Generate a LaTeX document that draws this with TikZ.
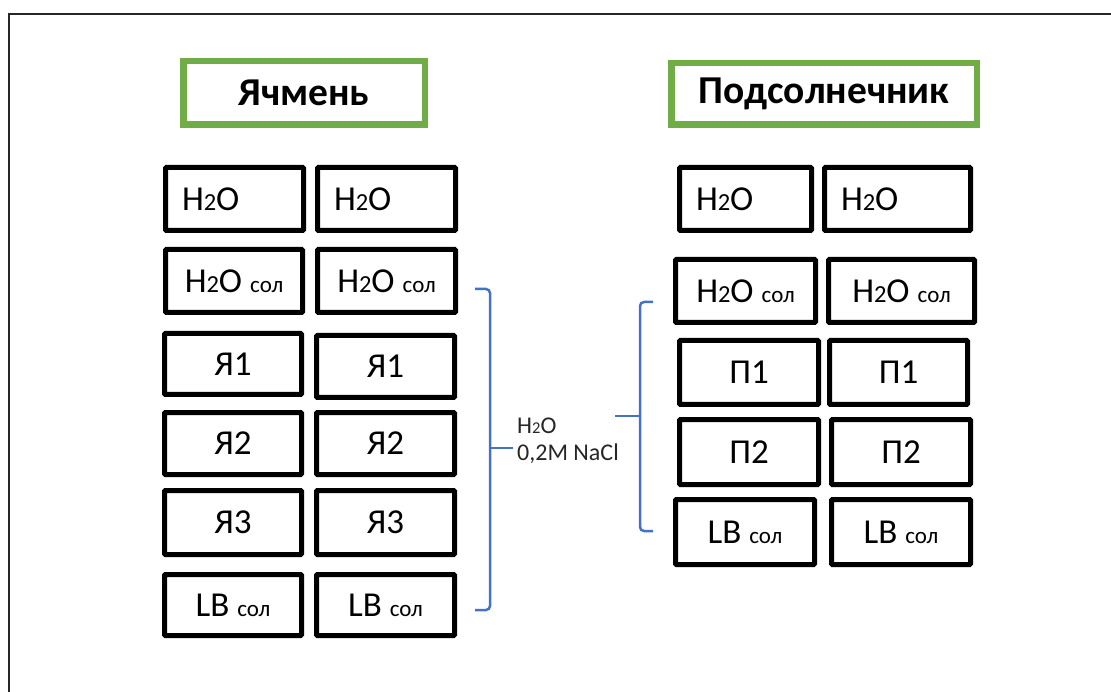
\documentclass[tikz,border=0pt]{standalone}
\usepackage{fontspec}
\setmainfont{Carlito}
\definecolor{titlegreen}{HTML}{70AD47}
\definecolor{braceblue}{HTML}{4472C4}
\newcommand\subtwo{{\fontsize{24.5}{24.5}\selectfont 2}}
\newcommand\solsmall{{\fontsize{23}{23}\selectfont сол}}
\newcommand\mainsize{\fontsize{35}{42}\selectfont}
% centred cell: name, x1, y1, x2, y2 (outer edges), text
\newcommand\cellc[6]{%
  \pgfmathsetmacro\cw{#4-#2-5}\pgfmathsetmacro\ch{#5-#3-5}%
  \node[cell,minimum width=\cw pt,minimum height=\ch pt] (#1) at ({(#2+#4)/2},{(#3+#5)/2}) {#6};}
% left-aligned cell
\newcommand\celll[6]{%
  \pgfmathsetmacro\tw{#4-#2-5-33}\pgfmathsetmacro\ch{#5-#3-5}%
  \node[cell,text width=\tw pt,align=left,inner xsep=16.5pt,minimum height=\ch pt] (#1) at ({(#2+#4)/2},{(#3+#5)/2}) {#6};}
% title box
\newcommand\titlebox[6]{%
  \pgfmathsetmacro\cw{#4-#2-6.5}\pgfmathsetmacro\ch{#5-#3-6.5}%
  \node[titlecell,minimum width=\cw pt,minimum height=\ch pt] (#1) at ({(#2+#4)/2},{(#3+#5)/2}) {#6};}
\begin{document}
\begin{tikzpicture}[x=1pt,y=-1pt,
  cell/.style={draw=black,line width=5pt,rounded corners=1pt,inner sep=0pt,
    font=\mainsize,text=black},
  titlecell/.style={draw=titlegreen,line width=6.5pt,inner sep=0pt,
    font=\fontsize{39.5}{46}\selectfont\bfseries,text=black},
  bracket/.style={draw=braceblue,line width=2.5pt,rounded corners=4pt},
  label/.style={font=\fontsize{24}{27}\selectfont,align=left,inner sep=0pt,text=black!85}]
\useasboundingbox (0,0) rectangle (1111,692);
\fill[white] (0,0) rectangle (1111,692);
% frame (only the top and left edges fall inside)
\draw[line width=2pt,black!85] (9,692) -- (9,14) -- (1111,14);

% titles
\titlebox{tY}{180}{58}{428}{128}{Ячмень}
\titlebox{tP}{668}{60}{980}{128}{Подсолнечник}

% barley samples
\celll{ya}{163}{165}{306}{233}{H\subtwo O}
\celll{yb}{315}{165}{458}{233}{H\subtwo O}
\cellc{yc}{163}{247}{305}{315}{H\subtwo O \solsmall}
\cellc{yd}{315}{247}{458}{315}{H\subtwo O \solsmall}
\cellc{ye}{162}{331}{304}{397}{Я1}
\cellc{yf}{314}{333}{457}{400}{Я1}
\cellc{yg}{162}{410}{304}{477}{Я2}
\cellc{yh}{314}{410}{457}{477}{Я2}
\cellc{yi}{162}{488}{304}{557}{Я3}
\cellc{yj}{314}{488}{457}{557}{Я3}
\cellc{yk}{162}{572}{304}{638}{LB \solsmall}
\cellc{yl}{314}{572}{457}{638}{LB \solsmall}

% sunflower samples
\celll{pa}{677}{165}{814}{233}{H\subtwo O}
\celll{pb}{822}{165}{973}{233}{H\subtwo O}
\cellc{pc}{673}{257}{818}{325}{H\subtwo O \solsmall}
\cellc{pd}{826}{257}{977}{325}{H\subtwo O \solsmall}
\cellc{pe}{677}{338}{821}{407}{П1}
\cellc{pf}{827}{338}{970}{407}{П1}
\cellc{pg}{677}{417}{821}{487}{П2}
\cellc{ph}{829}{417}{973}{487}{П2}
\cellc{pi}{673}{497}{817}{567}{LB \solsmall}
\cellc{pj}{829}{497}{973}{567}{LB \solsmall}

% brackets grouping the salt-treated samples
\coordinate (lbTop) at (475,289);
\coordinate (lbBot) at (475,610);
\coordinate (lbTip) at (513,448);
\coordinate (rbTop) at (653,302);
\coordinate (rbBot) at (653,531);
\coordinate (rbTip) at (615,416);
\draw[bracket] (lbTop) -- (490,289) -- (490,610) -- (lbBot);
\draw[bracket] (490,448) -- (lbTip);
\draw[bracket] (rbTop) -- (640,302) -- (640,531) -- (rbBot);
\draw[bracket] (640,416) -- (rbTip);

\node[label,anchor=north west] (media) at (517,418) {H{\fontsize{16.5}{16.5}\selectfont 2}O\\0,2M NaCl};
\end{tikzpicture}
\end{document}
